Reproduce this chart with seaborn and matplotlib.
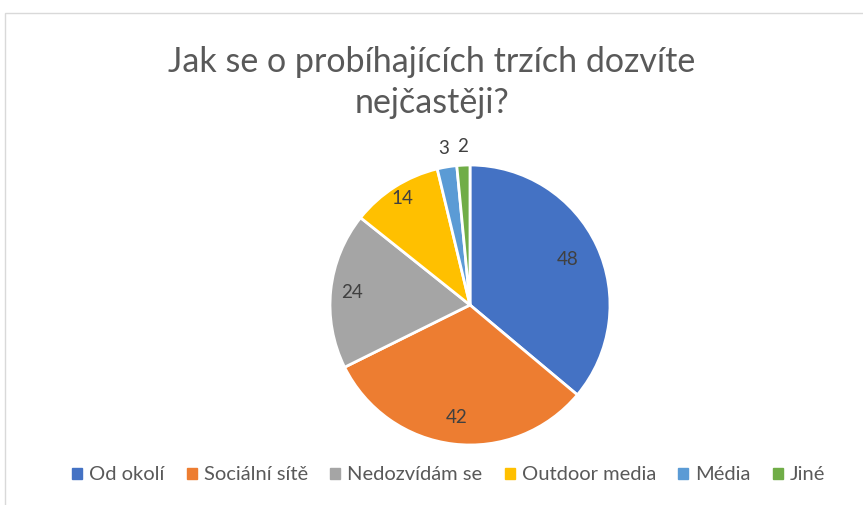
import numpy as np
import matplotlib.pyplot as plt
import seaborn as sns
from matplotlib import patches as mpatches

title_lines = ['Jak se o probíhajících trzích dozvíte', 'nejčastěji?']
labels = ['Od okolí', 'Sociální sítě', 'Nedozvídám se', 'Outdoor media', 'Média', 'Jiné']
values = [48, 42, 24, 14, 3, 2]
colors = ['#4472C4', '#ED7D31', '#A5A5A5', '#FFC000', '#5B9BD5', '#70AD47']
label_r = [0.77, 0.81, 0.85, 0.9, 1.13, 1.13]

sns.set_style('white')
plt.rcParams['font.family'] = ['Lato', 'DejaVu Sans']

fig = plt.figure(figsize=(8.63, 5.05), dpi=100)
# light chart border
fig.patches.append(mpatches.Rectangle((5/863, -0.1), 1.2, 1 - 13/505 + 0.1, transform=fig.transFigure,
                                      fill=False, edgecolor='#d9d9d9', linewidth=1))

ax = fig.add_axes([330/863, 1 - 445/505, 280/863, 280/505])
wedges, _ = ax.pie(values, colors=colors, startangle=90, counterclock=False, radius=1,
                   wedgeprops=dict(edgecolor='white', linewidth=2))
for w, v, r in zip(wedges, values, label_r):
    ang = np.deg2rad((w.theta1 + w.theta2) / 2)
    ax.text(r * np.cos(ang), r * np.sin(ang), str(v), ha='center', va='center',
            fontsize=13.5, color='#404040')
ax.set_xlim(-1, 1)
ax.set_ylim(-1, 1)
ax.set_aspect('equal')
ax.axis('off')

for line, ypix in zip(title_lines, [62, 103]):
    fig.text(0.5, 1 - ypix/505, line, ha='center', va='center', fontsize=24.5, color='#595959')

handles = [mpatches.Patch(color=c, label=l) for c, l in zip(colors, labels)]
fig.legend(handles=handles, loc='center', bbox_to_anchor=(0.520, 1 - 475/505), ncol=6, frameon=False,
           fontsize=14.5, labelcolor='#595959', handlelength=0.5, handleheight=0.5,
           handletextpad=0.35, columnspacing=1.1)

plt.savefig('out.png', dpi=100)
